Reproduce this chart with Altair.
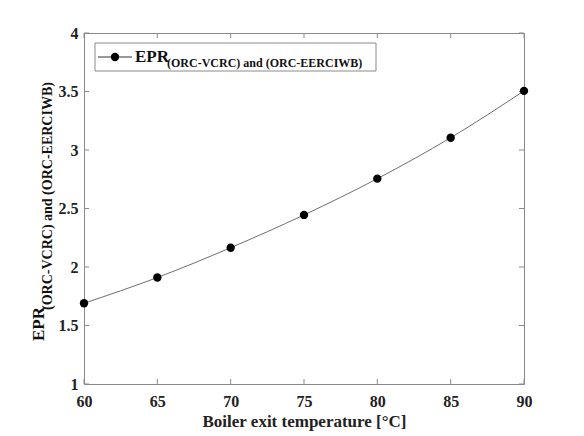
import altair as alt
import pandas as pd

temps = [60, 65, 70, 75, 80, 85, 90]
epr = [1.69, 1.91, 2.165, 2.445, 2.755, 3.105, 3.505]
x_ticks = [60, 65, 70, 75, 80, 85, 90]
y_ticks = [1, 1.5, 2, 2.5, 3, 3.5, 4]

W, H = 440, 351
FONT = "'Times New Roman', 'Liberation Serif', 'DejaVu Serif', serif"
GREY = "#8a8a8a"

df = pd.DataFrame({"t": temps, "epr": epr})
xt = pd.DataFrame({"v": x_ticks})
yt = pd.DataFrame({"v": y_ticks})
one = pd.DataFrame({"k": [0]})

xs = alt.Scale(domain=[60, 90], nice=False)
ys = alt.Scale(domain=[1, 4], nice=False)

xaxis = alt.Axis(values=x_ticks, ticks=False, domain=False, grid=False,
                 labelFont=FONT, labelFontSize=16, labelFontWeight="bold",
                 labelColor="#222", labelPadding=9,
                 title="Boiler exit temperature [°C]", titleFont=FONT,
                 titleFontSize=17, titleFontWeight="bold", titleColor="#222",
                 titlePadding=4, labelFlush=False)
yaxis = alt.Axis(values=y_ticks, ticks=False, domain=False, grid=False,
                 labelFont=FONT, labelFontSize=16, labelFontWeight="bold",
                 labelColor="#222", labelPadding=6, title=None,
                 labelFlush=False, format="~g")

line = alt.Chart(df).mark_line(color="#6e6e6e", strokeWidth=1, interpolate="monotone").encode(
    x=alt.X("t:Q", scale=xs, axis=xaxis),
    y=alt.Y("epr:Q", scale=ys, axis=yaxis),
)
pts = alt.Chart(df).mark_point(filled=True, color="black", size=70, opacity=1).encode(
    x=alt.X("t:Q", scale=xs), y=alt.Y("epr:Q", scale=ys)
)

tb = alt.Chart(xt).mark_rule(color=GREY, strokeWidth=1).encode(
    x=alt.X("v:Q", scale=xs), y=alt.value(H), y2=alt.value(H - 5))
tt = alt.Chart(xt).mark_rule(color=GREY, strokeWidth=1).encode(
    x=alt.X("v:Q", scale=xs), y=alt.value(0), y2=alt.value(5))
tl = alt.Chart(yt).mark_rule(color=GREY, strokeWidth=1).encode(
    y=alt.Y("v:Q", scale=ys), x=alt.value(0), x2=alt.value(5))
tr = alt.Chart(yt).mark_rule(color=GREY, strokeWidth=1).encode(
    y=alt.Y("v:Q", scale=ys), x=alt.value(W), x2=alt.value(W - 5))

# legend
lbox = alt.Chart(one).mark_rect(fill="white", stroke=GREY, strokeWidth=1).encode(
    x=alt.value(11), x2=alt.value(292), y=alt.value(10), y2=alt.value(38))
lline = alt.Chart(one).mark_rule(color="#333", strokeWidth=1).encode(
    x=alt.value(14), x2=alt.value(48), y=alt.value(24))
lpt = alt.Chart(one).mark_point(filled=True, color="black", size=70, opacity=1).encode(
    x=alt.value(31), y=alt.value(24))
lt1 = alt.Chart(one).mark_text(font=FONT, fontSize=17, fontWeight="bold", align="left",
                               baseline="alphabetic", color="#111").encode(
    x=alt.value(51), y=alt.value(29), text=alt.value("EPR"))
lt2 = alt.Chart(one).mark_text(font=FONT, fontSize=12, fontWeight="bold", align="left",
                               baseline="alphabetic", color="#111").encode(
    x=alt.value(83), y=alt.value(34), text=alt.value("(ORC-VCRC) and (ORC-EERCIWB)"))

# y title
yt1 = alt.Chart(one).mark_text(font=FONT, fontSize=17, fontWeight="bold", align="left",
                               baseline="alphabetic", angle=270, color="#111").encode(
    x=alt.value(-40), y=alt.value(308), text=alt.value("EPR"))
yt2 = alt.Chart(one).mark_text(font=FONT, fontSize=14, fontWeight="bold", align="left",
                               baseline="alphabetic", angle=270, color="#111").encode(
    x=alt.value(-32), y=alt.value(277), text=alt.value("(ORC-VCRC) and (ORC-EERCIWB)"))

chart = alt.layer(tb, tt, tl, tr, line, pts, lbox, lline, lpt, lt1, lt2, yt1, yt2).properties(
    width=W, height=H,
    autosize=alt.AutoSizeParams(type="none"),
    padding={"left": 84, "top": 33, "right": 60, "bottom": 52},
    background="white",
).configure_view(stroke=GREY, strokeWidth=1)

chart.save("out.html", embed_options={"renderer": "svg", "actions": False})
